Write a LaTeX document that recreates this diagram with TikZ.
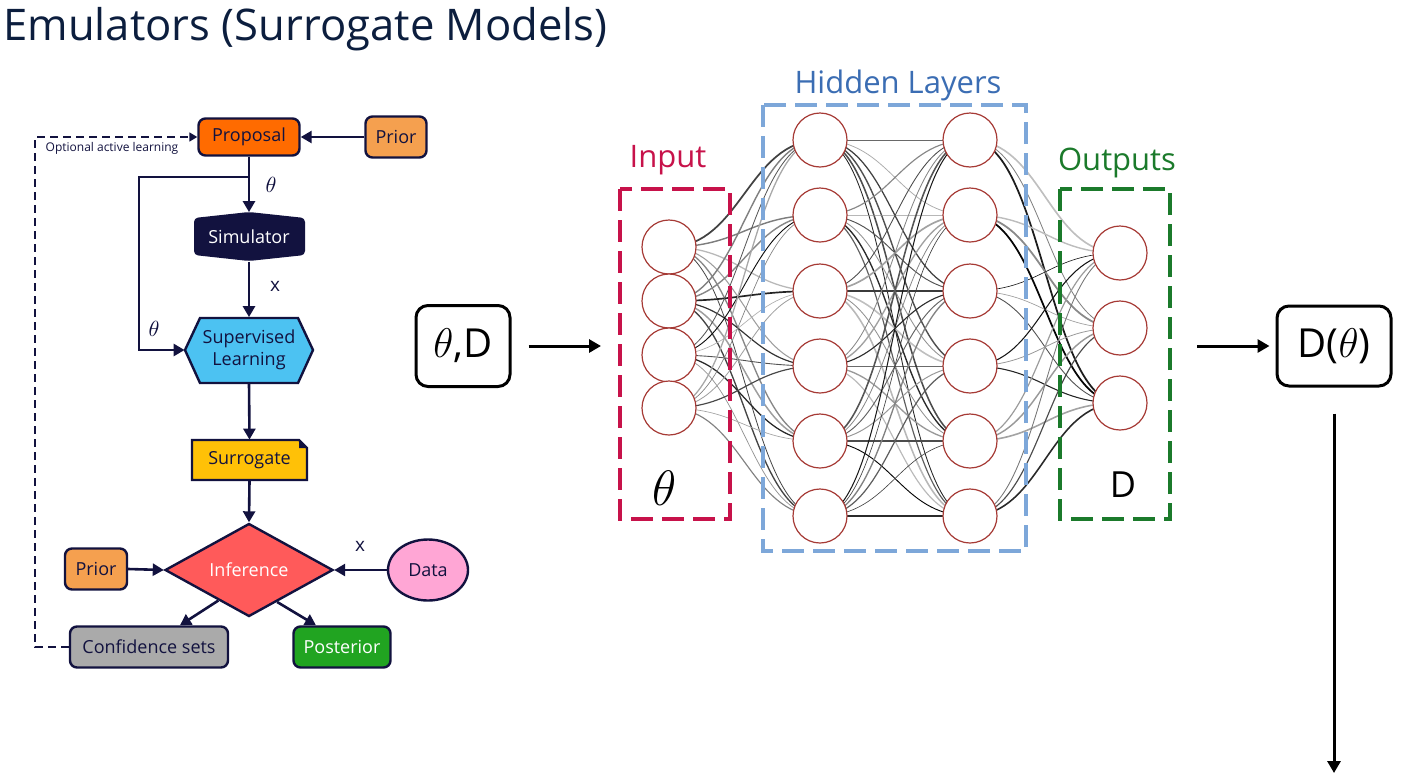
\documentclass[tikz,border=0pt]{standalone}
\usepackage{fontspec}
\setmainfont{Open Sans}
\usetikzlibrary{arrows.meta,shapes.geometric,calc}
\pgfdeclarelayer{background}
\pgfsetlayers{background,main}
\definecolor{navy}{HTML}{12123F}
\definecolor{titlenavy}{HTML}{0C1E3E}
\definecolor{proporange}{HTML}{FF6B00}
\definecolor{priororange}{HTML}{F5A04F}
\definecolor{supblue}{HTML}{4CC2F2}
\definecolor{suryellow}{HTML}{FFC107}
\definecolor{infred}{HTML}{FF5A5A}
\definecolor{datapink}{HTML}{FFA6D5}
\definecolor{confgray}{HTML}{AAAAAA}
\definecolor{postgreen}{HTML}{21A421}
\definecolor{incrimson}{HTML}{C7124A}
\definecolor{hidlabel}{HTML}{3B6DB3}
\definecolor{hidbox}{HTML}{7DA7D9}
\definecolor{outgreen}{HTML}{1B7A2B}
\definecolor{neuroncol}{HTML}{A63A35}
\tikzset{
  fbox/.style={draw=navy, line width=1.2pt, rounded corners=3.5pt, inner sep=0pt, text=navy, font=\fontsize{9}{10}\selectfont},
  flowline/.style={draw=navy, line width=1.3pt},
  flowarrow/.style={flowline, -{Triangle[length=5.5pt,width=6pt]}},
  flowlabel/.style={text=navy, font=\fontsize{9.5}{10}\selectfont, inner sep=0pt},
  neuron/.style={circle, draw=neuroncol, fill=white, line width=0.6pt, minimum size=27pt, inner sep=0pt},
  synapse/.style={line cap=round},
  bigarrow/.style={draw=black, line width=1.5pt, -{Triangle[length=6pt,width=6.5pt]}},
  bigbox/.style={draw=black, line width=1.5pt, rounded corners=6pt, inner sep=0pt, font=\fontsize{20}{24}\selectfont},
  layerbox/.style={line width=1.9pt, dash pattern=on 11pt off 4.5pt},
  layerlabel/.style={inner sep=0pt, font=\fontsize{15.5}{18}\selectfont},
}
\begin{document}
\begin{tikzpicture}[x=0.5pt,y=-0.5pt]
\useasboundingbox (0,0) rectangle (1428,782);

% title
\node[anchor=base west, inner sep=0pt, text=titlenavy, font=\fontsize{21.8}{26}\selectfont] (title) at (3,40) {Emulators (Surrogate Models)};

% ---------------- flowchart ----------------
\node[fbox, fill=proporange, minimum width=50.5pt, minimum height=18.5pt] (prop) at (249,137) {Proposal};
\node[fbox, fill=priororange, minimum width=30.5pt, minimum height=20.5pt] (prior1) at (396,137) {Prior};

\fill[navy, rounded corners=2pt] (194,218) -- (249,212) -- (305,218) -- (305,255) -- (249,261) -- (194,255) -- cycle;
\node[inner sep=0pt, minimum width=55.5pt, minimum height=24.5pt, text=white, font=\fontsize{9}{10}\selectfont] (sim) at (249,237) {Simulator};

\filldraw[fill=supblue, draw=navy, line width=1.2pt] (200,318) -- (298,318) -- (313,350) -- (298,383) -- (200,383) -- (185,350) -- cycle;
\node[inner sep=0pt, minimum width=64pt, minimum height=32.5pt, text=navy, align=center, font=\fontsize{9}{11}\selectfont] (sup) at (249,350) {Supervised\\Learning};

\filldraw[fill=suryellow, draw=navy, line width=1.2pt] (192,440) -- (299,440) -- (307,448) -- (307,480) -- (192,480) -- cycle;
\fill[navy] (299,440) -- (307,448) -- (299,448) -- cycle;
\node[inner sep=0pt, minimum width=57.5pt, minimum height=20pt, text=navy, font=\fontsize{9}{10}\selectfont] (sur) at (249.5,460) {Surrogate};

\node[diamond, fill=infred, draw=navy, line width=1.2pt, minimum width=84pt, minimum height=33pt, inner sep=0pt, text=white, font=\fontsize{9}{10}\selectfont] (inf) at (249,570) {Inference};
\node[fbox, fill=priororange, minimum width=31pt, minimum height=20.5pt] (prior2) at (96,569) {Prior};
\node[ellipse, fill=datapink, draw=navy, line width=1.2pt, minimum width=40pt, minimum height=30.5pt, inner sep=0pt, text=navy, font=\fontsize{9}{10}\selectfont] (data) at (428,570) {Data};
\node[fbox, fill=confgray, minimum width=79pt, minimum height=20.5pt] (conf) at (149,647) {Confidence sets};
\node[fbox, fill=postgreen, text=white, minimum width=48.5pt, minimum height=20.5pt] (post) at (342,647) {Posterior};

% connectors
\draw[flowarrow] (prior1.west) -- (prop.east);
\draw[flowarrow] (prop.south) -- (sim.north);
\coordinate (br) at (249,177);
\coordinate (brc) at (139,177);
\draw[flowarrow] (br) -- (brc) |- (sup.west);
\draw[flowarrow] (sim.south) -- (sup.north);
\draw[flowarrow] (sup.south) -- (sur.north);
\draw[flowarrow] (sur.south) -- (inf.north);
\draw[flowarrow] (prior2.east) -- (inf.west);
\draw[flowarrow] (data.west) -- (inf.east);
\draw[flowarrow] ($(inf.south)!0.36!(inf.west)$) -- ([xshift=15.5pt]conf.north);
\draw[flowarrow] ($(inf.south)!0.33!(inf.east)$) -- ([xshift=-13pt]post.north);
\coordinate (dl) at (35,647);
\draw[navy, line width=0.8pt, dash pattern=on 4pt off 2.5pt, -{Triangle[length=4pt,width=4.5pt]}] (conf.west) -- (dl) |- (prop.west);

% flow labels
\node[text=navy, inner sep=0pt, font=\fontsize{6}{7}\selectfont] (opt) at (112,148) {Optional active learning};
\node[text=navy, inner sep=0pt, font=\fontsize{11}{12}\selectfont] (th1) at (271,185) {$\theta$};
\node[text=navy, inner sep=0pt, font=\fontsize{11}{12}\selectfont] (th2) at (154,329) {$\theta$};
\node[flowlabel] (x1) at (275,286) {x};
\node[flowlabel] (x2) at (360,546) {x};

% ---------------- neural network ----------------
\foreach \y [count=\i] in {247,301,355,408} \node[neuron] (i\i) at (669,\y) {};
\foreach \y [count=\i] in {140,215,291,366,441,516} \node[neuron] (h\i) at (820,\y) {};
\foreach \y [count=\i] in {140,215,291,366,441,516} \node[neuron] (g\i) at (970,\y) {};
\foreach \y [count=\i] in {253,328,403} \node[neuron] (o\i) at (1120,\y) {};

\begin{pgfonlayer}{background}
\pgfmathsetseed{11}
\foreach \a in {1,...,4} \foreach \b in {1,...,6} {
  \pgfmathsetmacro\s{int(25+75*rnd)}
  \pgfmathsetmacro\w{0.3+0.6*rnd}
  \draw[synapse, black!\s, line width=\w pt] (i\a.center) .. controls +(72,0) and +(-72,0) .. (h\b.center);
}
\foreach \a in {1,...,6} \foreach \b in {1,...,6} {
  \pgfmathsetmacro\s{int(25+75*rnd)}
  \pgfmathsetmacro\w{0.3+0.6*rnd}
  \draw[synapse, black!\s, line width=\w pt] (h\a.center) .. controls +(72,0) and +(-72,0) .. (g\b.center);
}
\foreach \a in {1,...,6} \foreach \b in {1,...,3} {
  \pgfmathsetmacro\s{int(25+75*rnd)}
  \pgfmathsetmacro\w{0.3+0.6*rnd}
  \draw[synapse, black!\s, line width=\w pt] (g\a.center) .. controls +(72,0) and +(-72,0) .. (o\b.center);
}
\end{pgfonlayer}

\draw[layerbox, draw=incrimson] (620,189) rectangle (730,519);
\draw[layerbox, draw=hidbox] (763,105) rectangle (1026,551);
\draw[layerbox, draw=outgreen] (1060,189) rectangle (1170,519);
\node[layerlabel, text=incrimson] (inlab) at (668,160) {Input};
\node[layerlabel, text=hidlabel] (hidlab) at (898,85) {Hidden Layers};
\node[layerlabel, text=outgreen] (outlab) at (1117,163) {Outputs};
\node[inner sep=0pt, font=\fontsize{25}{30}\selectfont] (thbig) at (665,488) {$\theta$};
\node[inner sep=0pt, font=\fontsize{18}{20}\selectfont] (dbig) at (1123,485) {D};

% ---------------- right side ----------------
\node[bigbox, minimum width=47pt, minimum height=40.5pt] (td) at (463,346) {$\theta$,D};
\node[bigbox, minimum width=57pt, minimum height=40pt] (dt) at (1334,346) {D($\theta$)};
\coordinate (netin) at (601,346);
\coordinate (netout) at (1197,346);
\draw[bigarrow] ([xshift=8.5pt]td.east) -- (netin);
\draw[bigarrow, shorten >=3pt] (netout) -- (dt.west);
\coordinate (downend) at (1334,773);
\draw[bigarrow] ([yshift=-13pt]dt.south) -- (downend);
\end{tikzpicture}
\end{document}
